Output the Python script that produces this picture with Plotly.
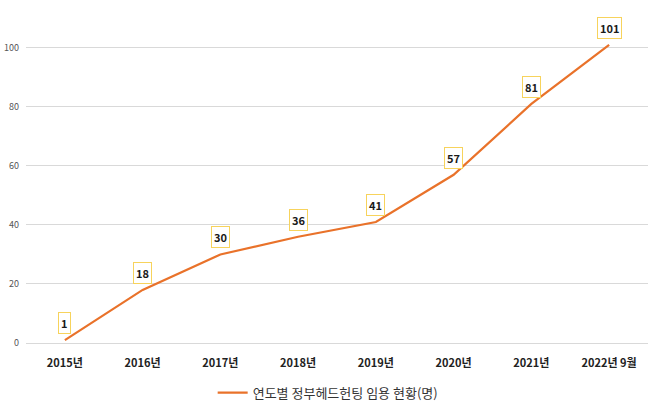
import plotly.graph_objects as go

categories = ["2015년", "2016년", "2017년", "2018년", "2019년", "2020년", "2021년", "2022년 9월"]
values = [1, 18, 30, 36, 41, 57, 81, 101]
series_name = "연도별 정부헤드헌팅 임용 현황(명)"
y_ticks = [0, 20, 40, 60, 80, 100]

FONT = "Noto Sans CJK KR, Malgun Gothic, sans-serif"
ORANGE = "#E9722A"

fig = go.Figure()
fig.add_trace(go.Scatter(
    x=categories, y=values, mode="lines", name=series_name,
    line=dict(color=ORANGE, width=2.2), cliponaxis=False,
))

for c, v in zip(categories, values):
    fig.add_annotation(
        x=c, y=v, text=f"<b>{v}</b>", showarrow=False, yshift=17,
        font=dict(family=FONT, size=11, color="#1a1a1a"),
        bgcolor="white", bordercolor="#F7D35C", borderwidth=1, borderpad=2,
    )

fig.update_layout(
    width=658, height=408,
    margin=dict(l=26, r=10, t=42, b=65, autoexpand=False),
    paper_bgcolor="white", plot_bgcolor="white",
    font=dict(family=FONT),
    showlegend=True,
    legend=dict(orientation="h", x=0.485, xanchor="center", y=-0.115, yanchor="top",
                itemwidth=30,
                font=dict(family=FONT, size=13, color="#333333")),
    xaxis=dict(
        type="category", range=[-0.5, len(categories) - 0.5], automargin=False,
        showgrid=False, showline=False, zeroline=False,
        tickfont=dict(family=FONT, size=11, color="#222222"),
        tickprefix="<b>", ticksuffix="</b>", ticklabelstandoff=12,
    ),
    yaxis=dict(
        range=[0, 102], tickvals=y_ticks, showgrid=True, gridcolor="#D9D9D9",
        gridwidth=1, zeroline=True, zerolinecolor="#D9D9D9", zerolinewidth=1,
        showline=False, automargin=False,
        tickfont=dict(family=FONT, size=9, color="#555555"),
        ticklabelstandoff=6,
    ),
)

fig.write_html("out.html")
